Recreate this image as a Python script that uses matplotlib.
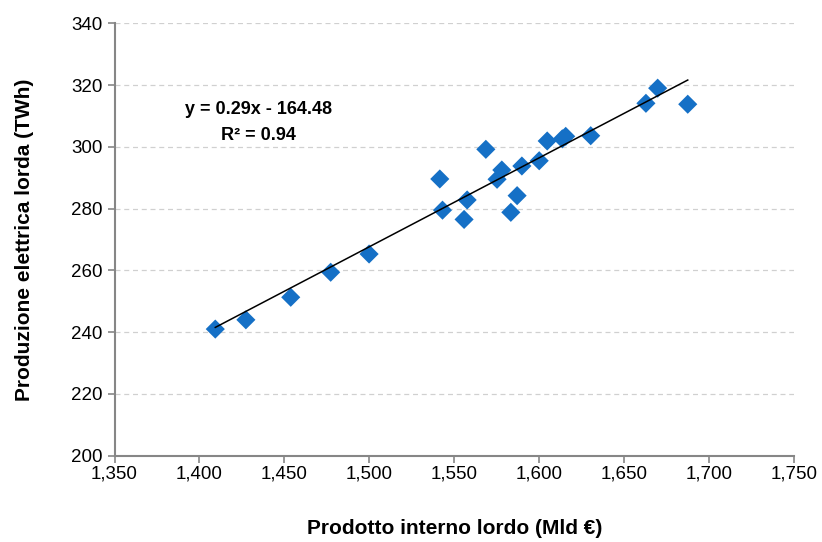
import matplotlib
matplotlib.use("Agg")
import matplotlib.pyplot as plt
from matplotlib import font_manager
from matplotlib.ticker import FuncFormatter, MultipleLocator

# Pick a narrow sans if available
names = {f.name for f in font_manager.fontManager.ttflist}
narrow = "Liberation Sans Narrow" if "Liberation Sans Narrow" in names else "Liberation Sans"
plt.rcParams["font.family"] = [narrow, "DejaVu Sans"]

# Prodotto interno lordo (Mld €) vs produzione elettrica lorda (TWh)
pil = [1409.3, 1427.3, 1453.7, 1477.2, 1499.8, 1541.4, 1543.0, 1555.7, 1557.5,
       1568.5, 1575.1, 1577.9, 1583.2, 1586.9, 1589.7, 1599.9, 1604.6, 1613.5,
       1615.5, 1630.2, 1662.7, 1669.6, 1687.3]
twh = [241.0, 244.0, 251.3, 259.4, 265.3, 289.6, 279.5, 276.5, 282.8,
       299.2, 289.5, 292.5, 278.8, 284.2, 293.8, 295.5, 301.9, 302.6,
       303.4, 303.6, 314.1, 319.0, 313.8]

# linear trend
slope = 0.2881
intercept = -164.48
r2 = 0.94

fig = plt.figure(figsize=(8.22, 5.42), dpi=100)
ax = fig.add_axes([0.1393, 0.1592, 0.8270, 0.7978])

ax.scatter(pil, twh, marker="D", s=95, color="#1570C6", edgecolors="none", zorder=3)

x0, x1 = min(pil), max(pil)
ax.plot([x0, x1], [slope * x0 + intercept, slope * x1 + intercept],
        color="black", lw=1.1, zorder=4)

sign = "-" if intercept < 0 else "+"
ax.text(1434.5, 312.2, f"y = {slope:.2f}x {sign} {abs(intercept):.2f}",
        ha="center", va="center", fontsize=13, fontweight="bold")
ax.text(1434.5, 303.8, f"R² = {r2:.2f}",
        ha="center", va="center", fontsize=13, fontweight="bold")

ax.set_xlim(1350, 1750)
ax.set_ylim(200, 340)
ax.xaxis.set_major_locator(MultipleLocator(50))
ax.yaxis.set_major_locator(MultipleLocator(20))
ax.xaxis.set_major_formatter(FuncFormatter(lambda v, p: f"{v:,.0f}"))

ax.grid(axis="y", color="#d0d0d0", linestyle=(0, (4, 3)), lw=0.9)
ax.set_axisbelow(True)
for s in ("top", "right"):
    ax.spines[s].set_visible(False)
for s in ("left", "bottom"):
    ax.spines[s].set_color("#868686")
    ax.spines[s].set_linewidth(1.5)
ax.tick_params(colors="#868686", labelcolor="black", labelsize=13.5,
               length=5, width=1.2)
ax.tick_params(axis="x", pad=2)

ax.set_xlabel("Prodotto interno lordo (Mld €)", fontsize=15, fontweight="bold", labelpad=26)
ax.set_ylabel("Produzione elettrica lorda (TWh)", fontsize=15, fontweight="bold", labelpad=27)

fig.savefig("out.png", dpi=100)
